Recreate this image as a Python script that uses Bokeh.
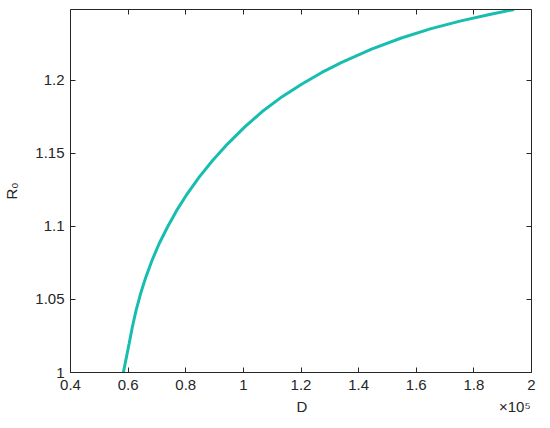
from bokeh.plotting import figure
from bokeh.models import Range1d, FixedTicker, LinearAxis
from bokeh.embed import file_html
from bokeh.resources import INLINE

# data (D in units of 1e5)
D = [0.5835, 0.6034, 0.6145, 0.6276, 0.6431, 0.6614, 0.6828, 0.7076, 0.7362,
     0.7686, 0.8052, 0.8466, 0.8931, 0.9455, 1.0041, 1.0655, 1.1345, 1.2034,
     1.2724, 1.3414, 1.4448, 1.5483, 1.6517, 1.7552, 1.8586, 1.9397]
R0 = [1.0000, 1.0197, 1.0310, 1.0425, 1.0539, 1.0653, 1.0767, 1.0882, 1.0995,
      1.1110, 1.1224, 1.1338, 1.1452, 1.1566, 1.1680, 1.1787, 1.1889, 1.1976,
      1.2055, 1.2124, 1.2215, 1.2291, 1.2355, 1.2408, 1.2454, 1.2486]

x_ticks = [0.4, 0.6, 0.8, 1.0, 1.2, 1.4, 1.6, 1.8, 2.0]
x_tick_labels = ["0.4", "0.6", "0.8", "1", "1.2", "1.4", "1.6", "1.8", "2"]
y_ticks = [1.0, 1.05, 1.1, 1.15, 1.2, 1.25]
y_tick_labels = ["1", "1.05", "1.1", "1.15", "1.2", "1.25"]
x_label = "D"
x_exponent = "\u00d710\u2075"
y_label = "R\u2080"

W, H = 542, 420
AX = "#262626"
FONT = "Liberation Sans"
NB = "\u00a0"

p = figure(width=W, height=H, output_backend="svg", toolbar_location=None,
           x_range=Range1d(0.4, 2.0), y_range=Range1d(1.0, 1.2486),
           x_axis_location=None, y_axis_location=None,
           min_border_left=67, min_border_right=11, min_border_top=9,
           min_border_bottom=48)
p.grid.visible = False
p.outline_line_color = None
p.background_fill_color = "white"
p.border_fill_color = "white"


def style(ax, ticks, labels, show):
    ax.ticker = FixedTicker(ticks=ticks)
    ax.major_tick_in = 5
    ax.major_tick_out = 0
    ax.minor_tick_line_color = None
    ax.axis_line_color = AX
    ax.axis_line_width = 1
    ax.major_tick_line_color = AX
    ax.major_label_text_font = FONT
    ax.major_label_text_color = AX
    ax.axis_label_text_font = FONT
    ax.axis_label_text_font_size = "15px"
    ax.axis_label_text_font_style = "normal"
    ax.axis_label_text_color = AX
    if show:
        ax.major_label_overrides = dict(zip(ticks, labels))
        ax.major_label_text_font_size = "15px"
    else:
        ax.major_label_overrides = {t: "" for t in ticks}
        ax.major_label_text_font_size = "0px"
        ax.major_label_standoff = 0


xb = LinearAxis()
style(xb, x_ticks, x_tick_labels, True)
xb.major_label_standoff = 7
# "D" centred under the frame, the x10^5 multiplier near the right end
xb.axis_label = NB * 54 + x_label + NB * 46 + x_exponent
xb.axis_label_standoff = 5
p.add_layout(xb, "below")

xt = LinearAxis()
style(xt, x_ticks, x_tick_labels, False)
p.add_layout(xt, "above")

yl = LinearAxis()
style(yl, y_ticks, y_tick_labels, True)
yl.major_label_standoff = 6
yl.axis_label = y_label
yl.axis_label_standoff = 12
p.add_layout(yl, "left")

yr = LinearAxis()
style(yr, y_ticks, y_tick_labels, False)
p.add_layout(yr, "right")

p.line(D, R0, line_color="#17BEB0", line_width=3)

open("out.html", "w").write(file_html(p, INLINE))
